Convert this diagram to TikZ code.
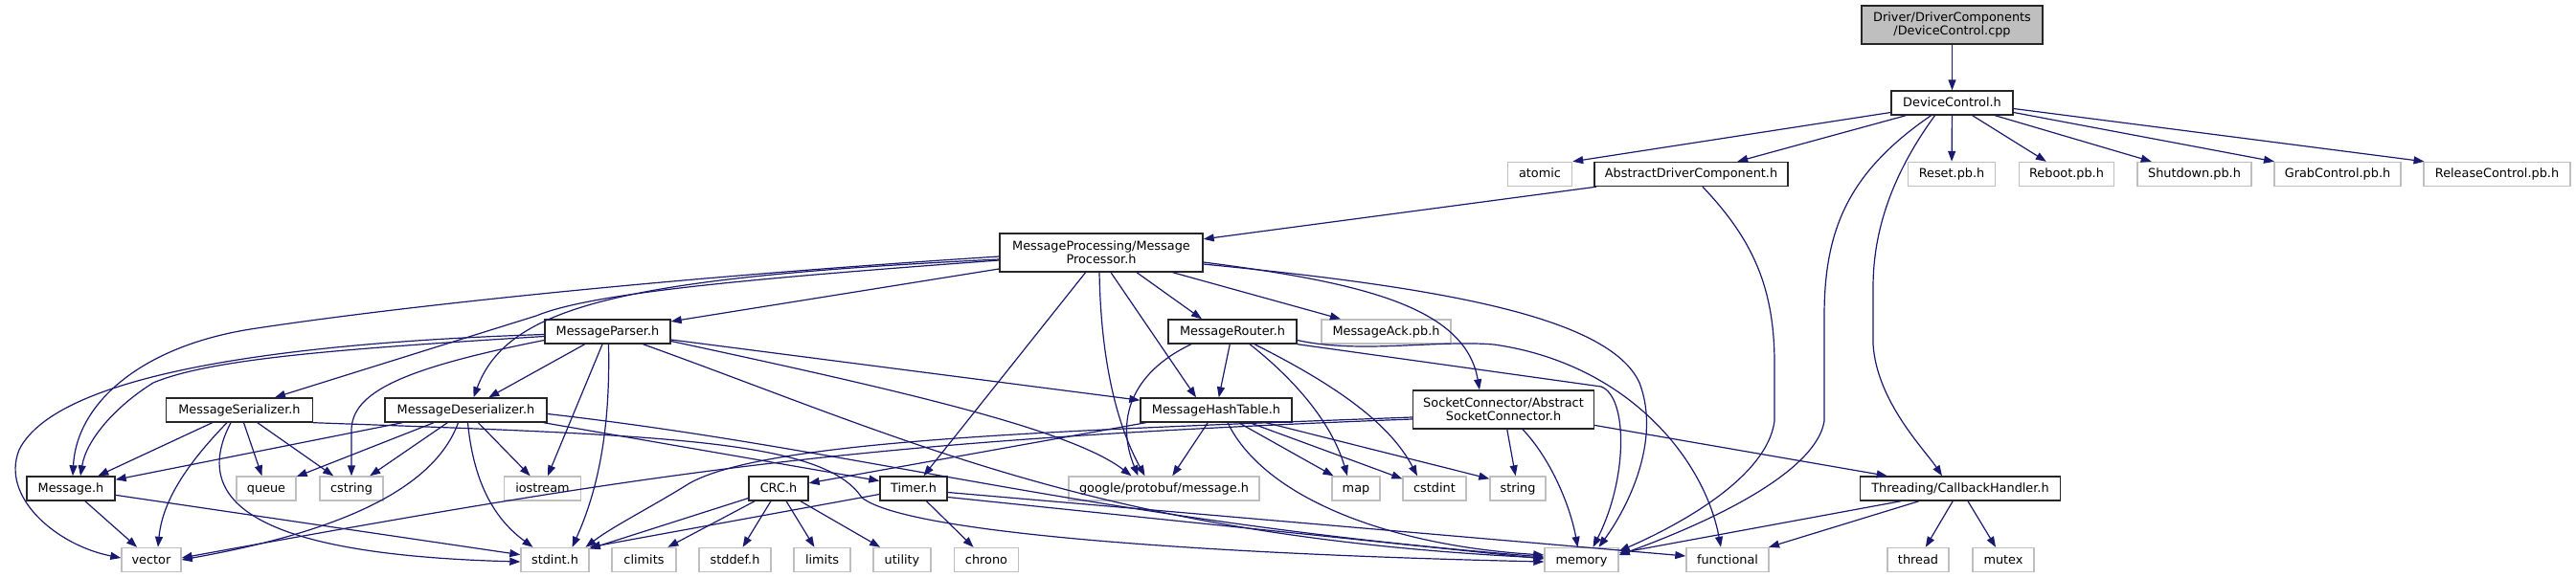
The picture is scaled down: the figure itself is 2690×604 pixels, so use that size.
\documentclass[tikz,border=0pt]{standalone}
\usepackage{fontspec}
\setmainfont{DejaVu Sans}
\usetikzlibrary{arrows.meta,calc}
\definecolor{edgeblue}{HTML}{191970}
\definecolor{extgray}{HTML}{BFBFBF}
\begin{document}
\begin{tikzpicture}[x=1pt,y=-1pt,
  boxbase/.style={draw=black!85, line width=1.4pt, fill=white, inner xsep=2pt, inner ysep=0pt, font=\fontsize{12.85}{14}\selectfont},
  box/.style={boxbase, minimum height=25pt, text height=10pt, text depth=2pt},
  twobox/.style={boxbase, minimum height=40pt, align=center},
  ext/.style={box, draw=extgray},
  edg/.style={draw=edgeblue, line width=1.2pt, -{Triangle[length=11pt,width=8pt]}}]
\useasboundingbox (0,0) rectangle (2690,604);
% nodes
\node[twobox, fill=extgray, minimum width=189pt] (cpp) at (2038.5,26) {Driver/DriverComponents\\/DeviceControl.cpp};
\node[box, minimum width=127pt] (dch) at (2038.5,107.5) {DeviceControl.h};
\node[ext, minimum width=67pt] (atomic) at (1608,182) {atomic};
\node[box, minimum width=202pt] (adc) at (1766,182) {AbstractDriverComponent.h};
\node[ext, minimum width=91pt] (reset) at (2038,182) {Reset.pb.h};
\node[ext, minimum width=99pt] (reboot) at (2158,182) {Reboot.pb.h};
\node[ext, minimum width=119pt] (shutdown) at (2291.5,182) {Shutdown.pb.h};
\node[ext, minimum width=132pt] (grab) at (2441,182) {GrabControl.pb.h};
\node[ext, minimum width=153pt] (release) at (2607.5,182) {ReleaseControl.pb.h};
\node[twobox, minimum width=212pt] (mp) at (1150,264) {MessageProcessing/Message\\Processor.h};
\node[box, minimum width=131pt] (parser) at (634.5,346.5) {MessageParser.h};
\node[box, minimum width=134pt] (router) at (1287,346.5) {MessageRouter.h};
\node[ext, minimum width=135pt] (ack) at (1447.5,346.5) {MessageAck.pb.h};
\node[box, minimum width=153pt] (ser) at (250,428.5) {MessageSerializer.h};
\node[box, minimum width=169pt] (deser) at (486.5,428.5) {MessageDeserializer.h};
\node[box, minimum width=158pt] (hash) at (1270,428.5) {MessageHashTable.h};
\node[twobox, minimum width=189pt] (sock) at (1570,428) {SocketConnector/Abstract\\SocketConnector.h};
\node[box, minimum width=92pt] (msg) at (74,510.5) {Message.h};
\node[ext, minimum width=62pt] (queue) at (278,510.5) {queue};
\node[ext, minimum width=66pt] (cstring) at (367,510.5) {cstring};
\node[ext, minimum width=80pt] (iostream) at (566.5,510.5) {iostream};
\node[box, minimum width=62pt] (crc) at (813,510.5) {CRC.h};
\node[box, minimum width=70pt] (timer) at (954,510.5) {Timer.h};
\node[ext, minimum width=199pt] (gpb) at (1215.5,510.5) {google/protobuf/message.h};
\node[ext, minimum width=50pt] (map) at (1416,510.5) {map};
\node[ext, minimum width=66pt] (cstdint) at (1498,510.5) {cstdint};
\node[ext, minimum width=58pt] (string) at (1585,510.5) {string};
\node[box, minimum width=209pt] (cbh) at (2047,510.5) {Threading/CallbackHandler.h};
\node[ext, minimum width=62pt] (vector) at (158,585) {vector};
\node[ext, minimum width=71pt] (stdint) at (579.5,585) {stdint.h};
\node[ext, minimum width=67pt] (climits) at (672.5,585) {climits};
\node[ext, minimum width=75pt] (stddef) at (767.5,585) {stddef.h};
\node[ext, minimum width=59pt] (limits) at (858.5,585) {limits};
\node[ext, minimum width=60pt] (utility) at (942,585) {utility};
\node[ext, minimum width=67pt] (chrono) at (1030,585) {chrono};
\node[ext, minimum width=77pt] (memory) at (1651.5,585) {memory};
\node[ext, minimum width=86pt] (functional) at (1804,585) {functional};
\node[ext, minimum width=64pt] (thread) at (2003,585) {thread};
\node[ext, minimum width=64pt] (mutex) at (2092,585) {mutex};
% DeviceControl
\draw[edg] (cpp) -- (dch);
\draw[edg] ($(dch.west)+(0,10)$) -- (atomic.north east);
\draw[edg] (dch) -- (adc);
\draw[edg] ($(dch.south)+(-22,0)$) .. controls (1930,180) and (1905,240) .. (1905,330) -- (1905,440) .. controls (1895,500) and (1760,555) .. ($(memory.east)+(0,-5)$);
\draw[edg] ($(dch.south)+(-18,0)$) .. controls (1970,190) and (1956,250) .. (1956,300) -- (1956,360) .. controls (1960,420) and (2010,470) .. ($(cbh.north)+(-19,0)$);
\draw[edg] (dch) -- (reset);
\draw[edg] (dch) -- (reboot);
\draw[edg] (dch) -- (shutdown);
\draw[edg] ($(dch.east)+(0,10)$) -- ($(grab.north)+(-66,0)$);
\draw[edg] ($(dch.east)+(0,6)$) -- ($(release.north)+(-76,0)$);
% AbstractDriverComponent
\draw[edg] (adc) -- (mp);
\draw[edg] ($(adc.south)+(12,0)$) .. controls (1830,250) and (1853,300) .. (1853,380) -- (1853,440) .. controls (1845,500) and (1750,550) .. ($(memory.east)+(0,-9)$);
% MessageProcessor
\draw[edg] (mp) -- (parser);
\draw[edg] ($(mp.west)+(0,4)$) .. controls (700,290) and (420,320) .. (268,343) .. controls (150,360) and (80,420) .. ($(msg.north)+(2,0)$);
\draw[edg] ($(mp.west)+(0,8)$) .. controls (800,290) and (620,305) .. (560,330) -- ($(ser.north)+(37,0)$);
\draw[edg] ($(mp.west)+(0,7)$) .. controls (650,290) and (530,320) .. ($(deser.north)+(8,0)$);
\draw[edg] (mp) -- (timer);
\draw[edg] ($(mp.south)+(-2,0)$) .. controls (1150,400) and (1175,460) .. ($(gpb.north)+(-20,0)$);
\draw[edg] ($(mp.south)+(10,0)$) -- ($(hash.north)+(-21,0)$);
\draw[edg] ($(mp.south)+(37,0)$) -- ($(router.north)+(-32,0)$);
\draw[edg] (mp) -- (ack);
\draw[edg] ($(mp.east)+(0,10)$) .. controls (1420,295) and (1530,320) .. ($(sock.north)+(-25,0)$);
\draw[edg] ($(mp.east)+(0,12)$) .. controls (1500,300) and (1680,330) .. (1712,400) .. controls (1735,460) and (1700,530) .. ($(memory.north)+(18,0)$);
% MessageParser
\draw[edg] ($(parser.west)+(0,5)$) .. controls (350,365) and (220,375) .. (160,400) .. controls (120,425) and (90,460) .. ($(msg.north)+(10,0)$);
\draw[edg] ($(parser.west)+(0,3)$) .. controls (300,358) and (60,390) .. (20,470) .. controls (0,520) and (60,570) .. ($(vector.west)+(0,-2)$);
\draw[edg] ($(parser.west)+(0,9)$) .. controls (420,385) and (367,410) .. (367,450) -- (cstring.north);
\draw[edg] (parser) -- (deser);
\draw[edg] (parser) -- (iostream);
\draw[edg] ($(parser.south)+(1,0)$) .. controls (637,430) and (630,500) .. ($(stdint.north)+(18,0)$);
\draw[edg] ($(parser.south)+(37,0)$) .. controls (950,460) and (1150,560) .. ($(memory.west)+(0,-2)$);
\draw[edg] (parser) -- (hash);
\draw[edg] ($(parser.east)+(0,10)$) .. controls (950,410) and (1120,450) .. ($(gpb.north)+(-34,0)$);
% MessageRouter
\draw[edg] ($(router.south)+(-43,0)$) .. controls (1180,390) and (1165,440) .. ($(gpb.north)+(-27,0)$);
\draw[edg] (router) -- (hash);
\draw[edg] ($(router.south)+(18,0)$) .. controls (1350,395) and (1390,440) .. ($(map.north)+(-9,0)$);
\draw[edg] ($(router.south)+(23,0)$) .. controls (1390,400) and (1450,440) .. ($(cstdint.north)+(-18,0)$);
\draw[edg] (router.south east) -- (1672,404) .. controls (1700,415) and (1700,500) .. ($(memory.north)+(12,0)$);
\draw[edg] ($(router.east)+(0,9)$) .. controls (1420,370) and (1500,355) .. (1560,360) .. controls (1700,380) and (1780,480) .. ($(functional.north)+(-7,0)$);
% MessageHashTable
\draw[edg] (hash) -- (crc);
\draw[edg] (hash) -- (gpb);
\draw[edg] ($(hash.south)+(12,0)$) .. controls (1320,520) and (1450,570) .. ($(memory.west)+(0,-5)$);
\draw[edg] (hash) -- (map);
\draw[edg] ($(hash.south)+(35,0)$) -- ($(cstdint.north west)+(0,3)$);
\draw[edg] ($(hash.south)+(52,0)$) -- ($(string.north west)+(0,3)$);
% SocketConnector
\draw[edg] ($(sock.west)+(0,10)$) .. controls (900,460) and (700,490) .. ($(vector.east)+(0,-2)$);
\draw[edg] ($(sock.west)+(0,8)$) .. controls (1100,450) and (800,460) .. (720,505) .. controls (680,530) and (640,550) .. ($(stdint.north)+(32,0)$);
\draw[edg] (sock) -- (string);
\draw[edg] ($(sock.south)+(20,0)$) .. controls (1620,480) and (1640,530) .. ($(memory.north)+(-4,0)$);
\draw[edg] (sock) -- (cbh);
% MessageSerializer
\draw[edg] (ser) -- (msg);
\draw[edg] ($(ser.south)+(-13,0)$) .. controls (200,480) and (170,520) .. ($(vector.north)+(7,0)$);
\draw[edg] ($(ser.south)+(-9,0)$) .. controls (195,530) and (280,580) .. ($(stdint.west)+(0,2)$);
\draw[edg] (ser) -- (queue);
\draw[edg] (ser) -- (cstring);
\draw[edg] (ser.south east) .. controls (700,455) and (860,460) .. (900,520) .. controls (950,560) and (1300,580) .. ($(memory.west)+(0,2)$);
% MessageDeserializer
\draw[edg] (deser) -- (msg);
\draw[edg] (deser) -- (queue);
\draw[edg] (deser) -- (cstring);
\draw[edg] ($(deser.south)+(-8,0)$) .. controls (450,520) and (330,560) .. (vector.east);
\draw[edg] ($(deser.south)+(2,0)$) .. controls (495,510) and (520,545) .. ($(stdint.north)+(-23,0)$);
\draw[edg] (deser) -- (iostream);
\draw[edg] ($(deser.south east)+(-4,0)$) -- ($(timer.west)+(0,-8)$);
\draw[edg] ($(deser.east)+(0,4)$) .. controls (900,470) and (1150,545) .. ($(memory.west)+(0,-3)$);
% Timer
\draw[edg] (timer) -- (chrono);
\draw[edg] ($(timer.west)+(0,6)$) -- (stdint.north east);
\draw[edg] ($(timer.east)+(0,4)$) -- ($(functional.west)+(0,-4)$);
\draw[edg] ($(timer.east)+(0,9)$) -- ($(memory.west)+(0,-1)$);
% CRC
\draw[edg] (crc) -- (stdint);
\draw[edg] (crc) -- (climits);
\draw[edg] (crc) -- (stddef);
\draw[edg] (crc) -- (limits);
\draw[edg] (crc) -- (utility);
% Message.h
\draw[edg] (msg) -- (vector);
\draw[edg] (msg) -- (stdint);
% CallbackHandler
\draw[edg] (cbh) -- (functional);
\draw[edg] ($(cbh.south)+(-62,0)$) -- ($(memory.east)+(0,-7)$);
\draw[edg] (cbh) -- (thread);
\draw[edg] (cbh) -- (mutex);
\end{tikzpicture}
\end{document}
